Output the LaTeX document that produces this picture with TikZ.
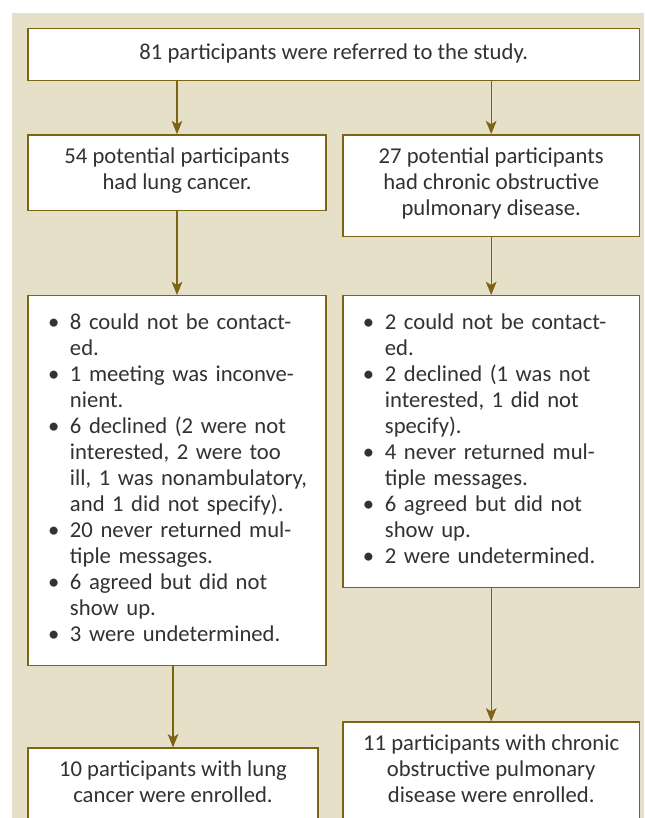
\documentclass[tikz,border=0pt]{standalone}
\usepackage{fontspec}
\setmainfont{Carlito}
\usetikzlibrary{positioning, arrows.meta, backgrounds}

\definecolor{panel}{RGB}{231,224,201}
\definecolor{rule}{RGB}{125,100,20}
\definecolor{ink}{RGB}{50,50,50}
\newcommand{\itm}{\makebox[16.5pt][l]{\textbullet}}
\newcommand{\cont}{\hspace*{16.5pt}}

\begin{document}
\begin{tikzpicture}[
                x=1pt, y=1pt,
                node distance = 40pt and 12pt,
                    box/.style = {draw=rule, fill=white, line width=1pt, align=center, inner xsep=6pt, inner ysep=9.75pt, text=ink, font=\fontsize{17}{19.5}\selectfont, execute at begin node=\strut, execute at end node=\strut},
                    listbox/.style = {draw=rule, fill=white, line width=1pt, align=left, inner xsep=15pt, inner ysep=12pt, text=ink, font=\fontsize{17}{19.5}\selectfont},
                    arrow/.style = {-{Stealth[length=10pt, width=8pt, inset=2.5pt]}, draw=rule, line width=1pt}
                ]

                \useasboundingbox (0,0) rectangle (483,-613.5);

                \node[box, minimum width=458.6pt] (referred) at (250.3,-40.9) {81 participants were referred to the study.};
                \node[box, minimum width=223.5pt, below=39.75pt of referred.south west, anchor=north west] (lung) {54 potential participants\\had lung cancer.};
                \node[box, minimum width=222.4pt, below=39.75pt of referred.south east, anchor=north east] (copd) {27 potential participants\\had chronic obstructive\\pulmonary disease.};

                \node[listbox, text width=193.5pt, below=63pt of lung] (lungout) {\begin{tabular}{@{}l@{}}
                    \itm 8 could not be contact-\\ \cont ed.\\
                    \itm 1 meeting was inconve-\\ \cont nient.\\
                    \itm 6 declined (2 were not\\ \cont interested, 2 were too\\ \cont ill, 1 was nonambulatory,\\ \cont and 1 did not specify).\\
                    \itm 20 never returned mul-\\ \cont tiple messages.\\
                    \itm 6 agreed but did not\\ \cont show up.\\
                    \itm 3 were undetermined.
                \end{tabular}};
                \node[listbox, text width=192.4pt, below=43.5pt of copd] (copdout) {\begin{tabular}{@{}l@{}}
                    \itm 2 could not be contact-\\ \cont ed.\\
                    \itm 2 declined (1 was not\\ \cont interested, 1 did not\\ \cont specify).\\
                    \itm 4 never returned mul-\\ \cont tiple messages.\\
                    \itm 6 agreed but did not\\ \cont show up.\\
                    \itm 2 were undetermined.
                \end{tabular}};

                \node[box, minimum width=217.5pt, below=60.75pt of lungout.south west, anchor=north west] (lungin) {10 participants with lung\\cancer were enrolled.};
                \node[box, minimum width=222.4pt, below=99.75pt of copdout] (copdin) {11 participants with chronic\\obstructive pulmonary\\disease were enrolled.};

                \begin{scope}[on background layer]
                    \fill[panel] (9,-9.75) rectangle (483,-613.5);
                \end{scope}

                \draw[arrow] (referred.south -| lung) -- (lung.north);
                \draw[arrow] (referred.south -| copd) -- (copd.north);
                \draw[arrow] (lung) -- (lungout);
                \draw[arrow] (copd) -- (copdout);
                \draw[arrow] (lungout.south -| lungin) -- (lungin.north);
                \draw[arrow] (copdout) -- (copdin);

            \end{tikzpicture}
\end{document}
